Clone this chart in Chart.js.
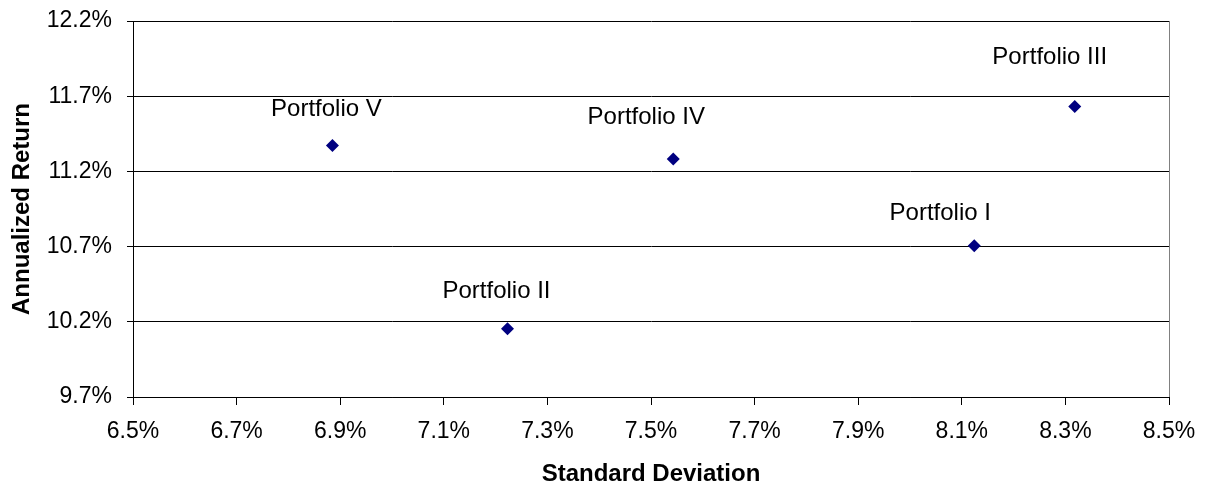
<!DOCTYPE html>
<html lang="en">
  <head>
    <meta charset="UTF-8" />
    <title>Risk vs Return</title>
    <style>
      html, body { margin: 0; padding: 0; background: #fff; }
      canvas { display: block; }
    </style>
  </head>
  <body>
    <canvas id="scatter" width="1205" height="489"></canvas>

    <script src="https://cdn.jsdelivr.net/npm/chart.js"></script>
    <script>
      // portfolios (values in %)
      const portfolios = ["Portfolio I", "Portfolio II", "Portfolio III", "Portfolio IV", "Portfolio V"];
      const stdDev = [8.124, 7.223, 8.318, 7.543, 6.885];
      const annReturn = [10.705, 10.153, 11.632, 11.282, 11.373];

      // tick labels
      const xTicks = [6.5, 6.7, 6.9, 7.1, 7.3, 7.5, 7.7, 7.9, 8.1, 8.3, 8.5];
      const yTicks = [9.7, 10.2, 10.7, 11.2, 11.7, 12.2];

      // label nudges (px) relative to each point
      const labelShift = [[-34, -32], [-11, -37], [-25, -49], [-27, -42], [-6, -36]];

      const fontFamily = "'Liberation Sans', Arial, sans-serif";

      const pointLabels = {
        id: "pointLabels",
        afterDatasetsDraw(chart) {
          const ctx = chart.ctx;
          const meta = chart.getDatasetMeta(0);
          ctx.save();
          ctx.font = "24px " + fontFamily;
          ctx.fillStyle = "#000";
          ctx.textAlign = "center";
          ctx.textBaseline = "middle";
          meta.data.forEach((pt, i) => {
            ctx.fillText(portfolios[i], pt.x + labelShift[i][0], pt.y + labelShift[i][1]);
          });
          ctx.restore();
        },
      };

      const data = {
        datasets: [
          {
            label: "Portfolios",
            data: stdDev.map((x, i) => ({ x: x, y: annReturn[i] })),
            pointStyle: "rectRot",
            pointRadius: 6.5,
            pointHoverRadius: 6.5,
            backgroundColor: "#000080",
            borderColor: "#000080",
            borderWidth: 0,
          },
        ],
      };

      new Chart(document.getElementById("scatter"), {
        type: "scatter",
        data: data,
        plugins: [pointLabels],
        options: {
          responsive: false,
          animation: false,
          events: [],
          layout: { padding: { left: 0, right: 36, top: 21, bottom: 0 } },
          plugins: {
            legend: { display: false },
            tooltip: { enabled: false },
          },
          scales: {
            x: {
              type: "linear",
              min: 6.5,
              max: 8.5,
              afterBuildTicks: (scale) => {
                scale.ticks = xTicks.map((v) => ({ value: v }));
              },
              afterFit: (scale) => {
                scale.height = 92;
                scale.paddingLeft = 0;
                scale.paddingRight = 0;
              },
              grid: {
                drawOnChartArea: true,
                color: (c) => (c.index === xTicks.length - 1 ? "#808080" : "rgba(0,0,0,0)"),
                tickColor: "#000",
                tickLength: 8,
              },
              border: { color: "#000", width: 1 },
              ticks: {
                color: "#000",
                padding: 13,
                maxRotation: 0,
                autoSkip: false,
                font: { family: fontFamily, size: 23 },
                callback: (v) => v.toFixed(1) + "%",
              },
              title: {
                display: true,
                text: "Standard Deviation",
                color: "#000",
                padding: { top: 0, bottom: 0 },
                font: { family: fontFamily, size: 24, weight: "bold" },
              },
            },
            y: {
              type: "linear",
              min: 9.7,
              max: 12.2,
              afterBuildTicks: (scale) => {
                scale.ticks = yTicks.map((v) => ({ value: v }));
              },
              afterFit: (scale) => {
                scale.width = 133;
                scale.paddingTop = 0;
                scale.paddingBottom = 0;
              },
              grid: {
                color: "#000",
                tickColor: "#000",
                tickLength: 6,
              },
              border: { color: "#000", width: 1 },
              ticks: {
                color: "#000",
                padding: 15,
                autoSkip: false,
                font: { family: fontFamily, size: 23 },
                callback: (v) => v.toFixed(1) + "%",
              },
              title: {
                display: true,
                text: "Annualized Return",
                color: "#000",
                padding: { top: 8, bottom: 0 },
                font: { family: fontFamily, size: 24, weight: "bold" },
              },
            },
          },
        },
      });
    </script>
  </body>
</html>
